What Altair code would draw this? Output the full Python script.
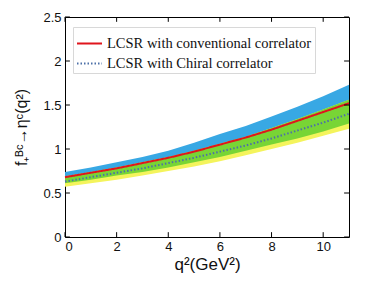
import altair as alt
import pandas as pd

q2 = [0, 1, 2, 3, 4, 5, 6, 7, 8, 9, 10, 11]
conv_central = [0.68, 0.73, 0.78, 0.84, 0.90, 0.97, 1.05, 1.13, 1.22, 1.32, 1.42, 1.52]
conv_upper = [0.74, 0.79, 0.85, 0.91, 0.98, 1.07, 1.17, 1.26, 1.37, 1.48, 1.60, 1.73]
conv_lower = [0.61, 0.65, 0.70, 0.74, 0.79, 0.85, 0.91, 0.98, 1.05, 1.12, 1.20, 1.29]
chir_central = [0.63, 0.68, 0.73, 0.78, 0.84, 0.90, 0.97, 1.04, 1.12, 1.21, 1.30, 1.40]
chir_upper = [0.69, 0.74, 0.79, 0.85, 0.91, 0.98, 1.06, 1.14, 1.24, 1.34, 1.45, 1.56]
chir_lower = [0.57, 0.61, 0.65, 0.70, 0.75, 0.80, 0.86, 0.93, 1.00, 1.07, 1.15, 1.23]

series_names = ["LCSR with conventional correlator", "LCSR with Chiral correlator"]
x_ticks = [0, 2, 4, 6, 8, 10]
y_ticks = [0, 0.5, 1, 1.5, 2, 2.5]

bands = pd.DataFrame({
    "q2": q2,
    "cu": conv_upper, "cl": conv_lower,
    "hu": chir_upper, "hl": chir_lower,
})
bands["gu"] = [min(a, b) for a, b in zip(conv_upper, chir_upper)]
bands["gl"] = [max(a, b) for a, b in zip(conv_lower, chir_lower)]

lines = pd.concat([
    pd.DataFrame({"q2": q2, "f": conv_central, "series": series_names[0]}),
    pd.DataFrame({"q2": q2, "f": chir_central, "series": series_names[1]}),
])

xs = alt.Scale(domain=[0, 11], nice=False)
ys = alt.Scale(domain=[0, 2.5], nice=False)

x_axis = alt.Axis(values=x_ticks, title="q²(GeV²)", labelFontSize=13, titleFontSize=17,
                  titleFontWeight="normal", labelColor="#111", titleColor="#111",
                  labelFont="Liberation Sans", titleFont="Liberation Sans",
                  domain=False, ticks=False, grid=False, labelPadding=3, titlePadding=3)
y_axis = alt.Axis(values=y_ticks, title="f₊ᴮᶜ→ηᶜ(q²)", labelFontSize=13, titleFontSize=16,
                  titleFontWeight="normal", labelColor="#111", titleColor="#111",
                  labelFont="Liberation Sans", titleFont="Liberation Sans",
                  domain=False, ticks=False, grid=False, labelPadding=4, titlePadding=13,
                  labelExpr="datum.value == 0 ? '0' : format(datum.value, '~g')")

base = alt.Chart(bands)

blue = base.mark_area(color="#38a8e4", opacity=1).encode(
    x=alt.X("q2:Q", scale=xs, axis=x_axis),
    y=alt.Y("cu:Q", scale=ys, axis=y_axis),
    y2="cl:Q",
)
yellow = base.mark_area(color="#f4f45c", opacity=1).encode(x="q2:Q", y="hu:Q", y2="hl:Q")
green = base.mark_area(color="#78d535", opacity=1).encode(x="q2:Q", y="gu:Q", y2="gl:Q")

line_chart = alt.Chart(lines).mark_line(strokeWidth=2).encode(
    x="q2:Q",
    y="f:Q",
    color=alt.Color("series:N", scale=alt.Scale(domain=series_names, range=["#e0151c", "#4d70a8"]),
                    sort=series_names, legend=alt.Legend(title=None)),
    strokeDash=alt.StrokeDash("series:N", scale=alt.Scale(domain=series_names, range=[[1, 0], [1.5, 2]]),
                              sort=series_names, legend=alt.Legend(title=None)),
)

# inward tick marks on all four sides
xt = pd.DataFrame({"t": x_ticks})
yt = pd.DataFrame({"t": y_ticks})
tick_b = alt.Chart(xt).mark_rule(color="black", strokeWidth=1).encode(
    x="t:Q", y=alt.datum(0), y2=alt.datum(0.055))
tick_t = alt.Chart(xt).mark_rule(color="black", strokeWidth=1).encode(
    x="t:Q", y=alt.datum(2.5), y2=alt.datum(2.445))
tick_l = alt.Chart(yt).mark_rule(color="black", strokeWidth=1).encode(
    y="t:Q", x=alt.datum(0), x2=alt.datum(0.19))
tick_r = alt.Chart(yt).mark_rule(color="black", strokeWidth=1).encode(
    y="t:Q", x=alt.datum(11), x2=alt.datum(10.81))

chart = alt.layer(blue, yellow, green, line_chart, tick_b, tick_t, tick_l, tick_r).properties(
    width=284, height=220,
    padding={"left": 57, "top": 9, "right": 17, "bottom": 45},
    autosize=alt.AutoSizeParams(type="none"),
).configure_view(
    stroke="black", strokeWidth=1
).configure_legend(
    orient="none", legendX=8, legendY=10,
    fillColor="white", strokeColor="#d8d8d8", padding=3,
    labelFont="Liberation Serif", labelFontSize=14.5, labelColor="#111",
    symbolType="stroke", symbolSize=625, symbolStrokeWidth=2,
    rowPadding=0, labelOffset=4, labelLimit=400,
)

chart.save("out.html", embed_options={"renderer": "svg", "actions": False})
